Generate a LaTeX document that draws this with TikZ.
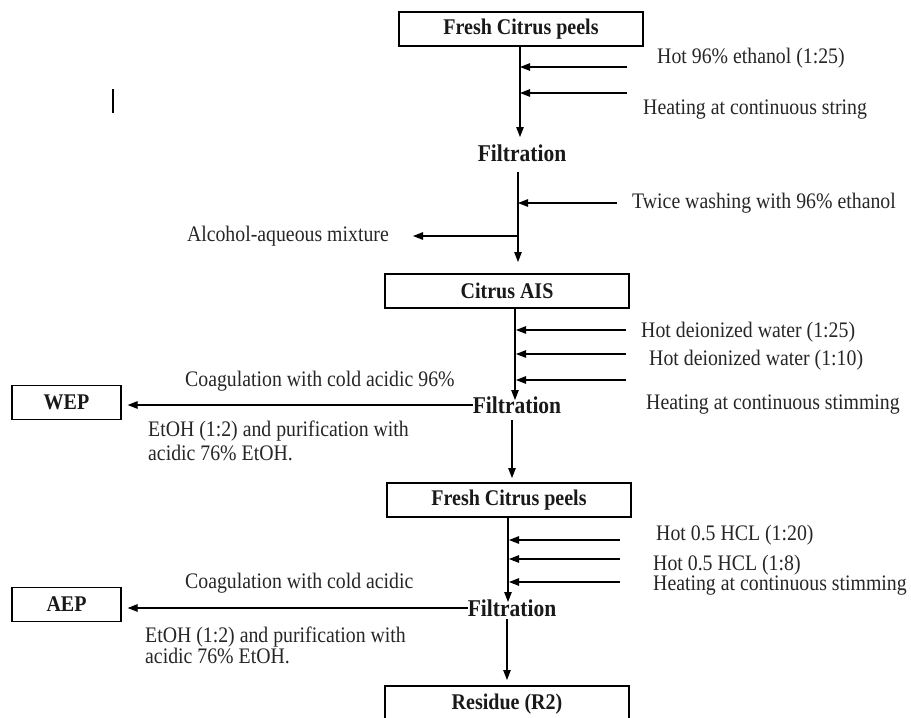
\documentclass[tikz,border=0pt]{standalone}
\usepackage{fontspec}
\setmainfont{Liberation Serif}
\usepackage{graphicx}
\usetikzlibrary{arrows.meta}
\newcommand{\sy}[1]{\scalebox{1}[1.12]{#1}}
\begin{document}
\begin{tikzpicture}[x=1pt,y=-1pt,
  txt/.style={font=\fontsize{19.8}{22}\selectfont, inner sep=0pt, text=black!85},
  bt/.style={font=\fontsize{20}{22}\selectfont\bfseries, inner sep=0pt, text=black!90},
  ft/.style={font=\fontsize{21.5}{23}\selectfont\bfseries, inner sep=0pt, text=black!90},
  box/.style={draw, line width=1.3pt, minimum width=244pt, minimum height=34pt, bt},
  sbox/.style={draw, line width=1.3pt, minimum width=109pt, minimum height=34pt, bt},
  arr/.style={line width=1.2pt, -{Triangle[length=10pt,width=7.5pt]}}]
\useasboundingbox (0,0) rectangle (911,718);
\fill[white] (0,0) rectangle (911,718);
\begin{scope}
\clip (0,0) rectangle (911,718);

% stray mark
\draw[line width=1.6pt] (113,89) -- (113,113);

% ---- Stage 1
\node[box] (b1) at (521,29) {\sy{Fresh Citrus peels}};
\node[ft] (f1) at (522,153) {\sy{Filtration}};
\coordinate (s1a) at (520,46);
\coordinate (s1b) at (520,137);
\draw[arr] (s1a) -- (s1b);
\coordinate (i1) at (627,67);  \coordinate (i1t) at (520,67);
\coordinate (i2) at (627,93);  \coordinate (i2t) at (520,93);
\draw[arr] (i1) -- (i1t);
\draw[arr] (i2) -- (i2t);
\node[txt, anchor=west] (t1) at (657,58) {\sy{Hot 96\% ethanol (1:25)}};
\node[txt, anchor=west] (t2) at (643,110) {\sy{Heating at continuous string}};

% ---- Stage 2
\coordinate (s2a) at (518,172);
\coordinate (s2b) at (518,262);
\draw[arr] (s2a) -- (s2b);
\coordinate (w1) at (617,203); \coordinate (w1t) at (518,203);
\draw[arr] (w1) -- (w1t);
\node[txt, anchor=west] (t3) at (632,203) {\sy{Twice washing with 96\% ethanol}};
\coordinate (a1) at (518,236); \coordinate (a1t) at (413,236);
\draw[arr] (a1) -- (a1t);
\node[txt, anchor=east] (t4) at (389,236) {\sy{Alcohol-aqueous mixture}};

% ---- Stage 3
\node[box] (b2) at (507,291) {\sy{Citrus AIS}};
\node[ft] (f2) at (517,405) {\sy{Filtration}};
\coordinate (s3a) at (515,308);
\coordinate (s3b) at (515,400);
\draw[arr] (s3a) -- (s3b);
\foreach \yy/\nm in {330/j1,354/j2,380/j3}{
  \coordinate (\nm) at (626,\yy); \coordinate (\nm t) at (516,\yy);
  \draw[arr] (\nm) -- (\nm t);
}
\node[txt, anchor=west] (t5) at (641,332) {\sy{Hot deionized water (1:25)}};
\node[txt, anchor=west] (t6) at (649,360) {\sy{Hot deionized water (1:10)}};
\node[txt, anchor=west] (t7) at (646,405) {\sy{Heating at continuous stimming}};

\node[sbox] (wep) at (66.5,402.5) {\sy{WEP}};
\draw[arr, shorten >=6pt] (f2.west) -- (wep.east |- f2.west);
\node[txt, anchor=west] (t8) at (185,381) {\sy{Coagulation with cold acidic 96\%}};
\node[txt, anchor=west] (t9) at (148,431) {\sy{EtOH (1:2) and purification with}};
\node[txt, anchor=west] (t10) at (148,453) {\sy{acidic 76\% EtOH.}};

% ---- Stage 4
\coordinate (s4a) at (512,420);
\coordinate (s4b) at (512,478);
\draw[arr] (s4a) -- (s4b);
\node[box] (b3) at (509,500) {\sy{Fresh Citrus peels}};
\node[ft] (f3) at (512,608) {\sy{Filtration}};
\coordinate (s5a) at (508,517);
\coordinate (s5b) at (508,602);
\draw[arr] (s5a) -- (s5b);
\foreach \yy/\nm in {540/k1,559/k2,582/k3}{
  \coordinate (\nm) at (620,\yy); \coordinate (\nm t) at (509,\yy);
  \draw[arr] (\nm) -- (\nm t);
}
\node[txt, anchor=west] (t11) at (656,535) {\sy{Hot 0.5 HCL (1:20)}};
\node[txt, anchor=west] (t12) at (653,565) {\sy{Hot 0.5 HCL (1:8)}};
\node[txt, anchor=west] (t13) at (653,586) {\sy{Heating at continuous stimming}};

\node[sbox] (aep) at (66.5,604.5) {\sy{AEP}};
\draw[arr, shorten >=6pt] (f3.west) -- (aep.east |- f3.west);
\node[txt, anchor=west] (t14) at (185,583) {\sy{Coagulation with cold acidic}};
\node[txt, anchor=west] (t15) at (145,637) {\sy{EtOH (1:2) and purification with}};
\node[txt, anchor=west] (t16) at (145,656) {\sy{acidic 76\% EtOH.}};

% ---- Stage 5
\coordinate (s6a) at (507,619);
\coordinate (s6b) at (507,680);
\draw[arr] (s6a) -- (s6b);
\node[draw, line width=1.3pt, minimum width=244pt, minimum height=54pt] (b4) at (507,713) {};
\node[bt] (t17) at (507,704) {\sy{Residue (R2)}};
\end{scope}
\end{tikzpicture}
\end{document}
